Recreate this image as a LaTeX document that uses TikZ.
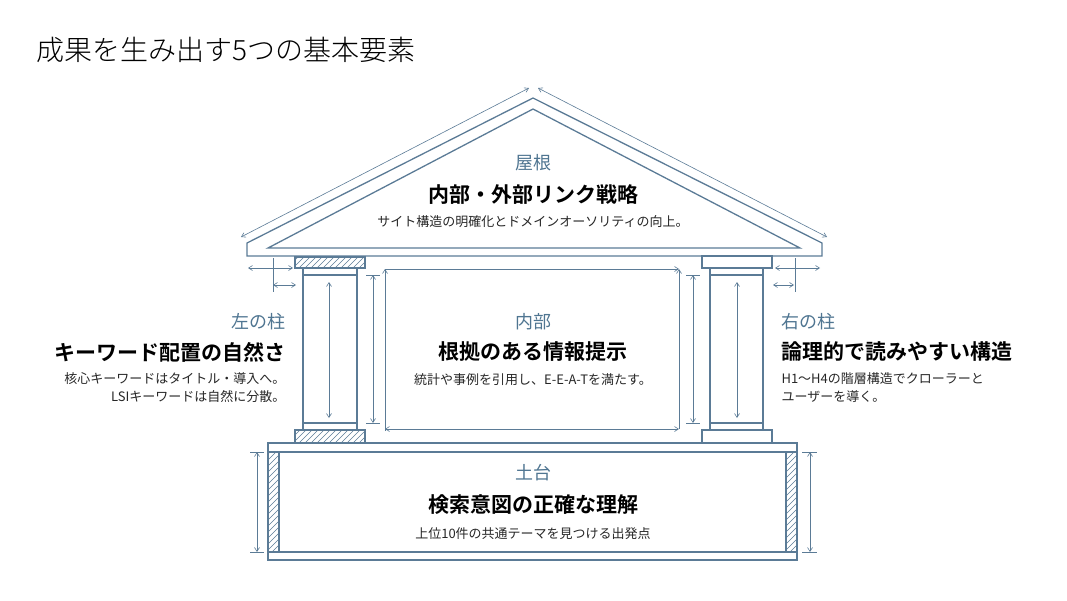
\documentclass[tikz,border=0pt]{standalone}
\usepackage{fontspec}
\setmainfont{Noto Sans CJK JP}
\newfontfamily\jpbold{Noto Sans CJK JP Bold}
\newfontfamily\jplight{Noto Sans CJK JP Light}
\usetikzlibrary{arrows.meta}
\definecolor{ln}{HTML}{5B7B96}
\definecolor{lab}{HTML}{4F7591}
\newcommand\hatchbox[4]{%
  \begin{scope}
  \clip (#1,#2) rectangle (#3,#4);
  \foreach \k in {-200,-194,...,200} {\draw[ln,line width=0.6pt] (#1+\k,#4) -- ++(200,-200);}
  \end{scope}
  \draw[ln,line width=1.2pt] (#1,#2) rectangle (#3,#4);}
\tikzset{
  wall/.style={ln,line width=1.3pt},
  dim/.style={ln,line width=0.6pt},
  dd/.style={dim,{Straight Barb[length=4pt,width=5pt]}-{Straight Barb[length=4pt,width=5pt]}},
  da/.style={dim,-{Straight Barb[length=4pt,width=5pt]}},
  part/.style={text=lab,font=\fontsize{18}{20}\selectfont},
  head/.style={text=black,font=\jpbold\fontsize{21}{24}\selectfont},
  desc/.style={text=black!85,font=\fontsize{13}{18}\selectfont}
}
\begin{document}
\begin{tikzpicture}[x=1pt,y=-1pt]
\useasboundingbox (0,0) rectangle (1067,600);
\node[anchor=west,font=\jplight\fontsize{28}{30}\selectfont] (title) at (33,50) {成果を生み出す5つの基本要素};
% roof
\draw[wall] (247,243) -- (533,98) -- (822,243) -- (822,256) -- (247,256) -- cycle;
\draw[wall] (268,248) -- (533,109) -- (800,248) -- cycle;
\coordinate (ra) at (241,237); \coordinate (rb) at (529,88);
\coordinate (rc) at (538,88); \coordinate (rd) at (827,237);
\draw[dd] (ra) -- (rb); \draw[dd] (rc) -- (rd);
% left pillar
\hatchbox{295}{257}{365}{268}
\draw[wall] (303,268) rectangle (357,430);
\draw[wall] (303,275) -- (357,275); \draw[wall] (303,423) -- (357,423);
\hatchbox{295}{430}{365}{443}
\draw[dd] (329,282) -- (329,418);
\draw[dim] (366,275) -- (380,275); \draw[dim] (366,423) -- (380,423);
\draw[dd] (373,275) -- (373,423);
\draw[dim] (273,258) -- (273,292);
\draw[dd] (248,268) -- (293,268);
\draw[dd] (273,285) -- (296,285);
% right pillar
\draw[wall] (702,256) rectangle (772,268);
\draw[wall] (710,268) rectangle (763,430);
\draw[wall] (710,275) -- (763,275); \draw[wall] (710,423) -- (763,423);
\draw[wall] (702,430) rectangle (772,443);
\draw[dd] (737,282) -- (737,418);
\draw[dim] (686,275) -- (700,275); \draw[dim] (686,423) -- (700,423);
\draw[dd] (693,275) -- (693,423);
\draw[dim] (795,258) -- (795,292);
\draw[dd] (775,268) -- (820,268);
\draw[dd] (773,285) -- (794,285);
% interior
\draw[da] (385,431) -- (385,269);
\draw[da] (385,269) -- (679,269);
\draw[da] (679,429) -- (679,269);
\draw[dd] (385,429) -- (679,429);
% foundation
\draw[wall] (268,443) rectangle (797,560);
\draw[wall] (268,452) -- (797,452); \draw[wall] (268,552) -- (797,552);
\hatchbox{268}{452}{279}{552}
\hatchbox{786}{452}{797}{552}
\draw[dim] (250,452) -- (264,452); \draw[dim] (250,552) -- (264,552);
\draw[dd] (257,452) -- (257,552);
\draw[dim] (802,452) -- (817,452); \draw[dim] (802,552) -- (817,552);
\draw[dd] (810,452) -- (810,552);
% texts
\node[part] (p1) at (533,163) {屋根};
\node[head] (h1) at (533,195) {内部・外部リンク戦略};
\node[desc] (d1) at (533,222) {サイト構造の明確化とドメインオーソリティの向上。};
\node[part,anchor=east] (p2) at (289,322) {左の柱};
\node[head,anchor=east] (h2) at (289,352) {キーワード配置の自然さ};
\node[desc,anchor=north east,align=right] (d2) at (289,369) {核心キーワードはタイトル・導入へ。\\LSIキーワードは自然に分散。};
\node[part] (p3) at (533,322) {内部};
\node[head] (h3) at (533,352) {根拠のある情報提示};
\node[desc] (d3) at (533,380) {統計や事例を引用し、E-E-A-Tを満たす。};
\node[part,anchor=west] (p4) at (778,322) {右の柱};
\node[head,anchor=west] (h4) at (778,352) {論理的で読みやすい構造};
\node[desc,anchor=north west,align=left] (d4) at (778,369) {H1〜H4の階層構造でクローラーと\\ユーザーを導く。};
\node[part] (p5) at (533,473) {土台};
\node[head] (h5) at (533,505) {検索意図の正確な理解};
\node[desc] (d5) at (533,534) {上位10件の共通テーマを見つける出発点};
\end{tikzpicture}
\end{document}
